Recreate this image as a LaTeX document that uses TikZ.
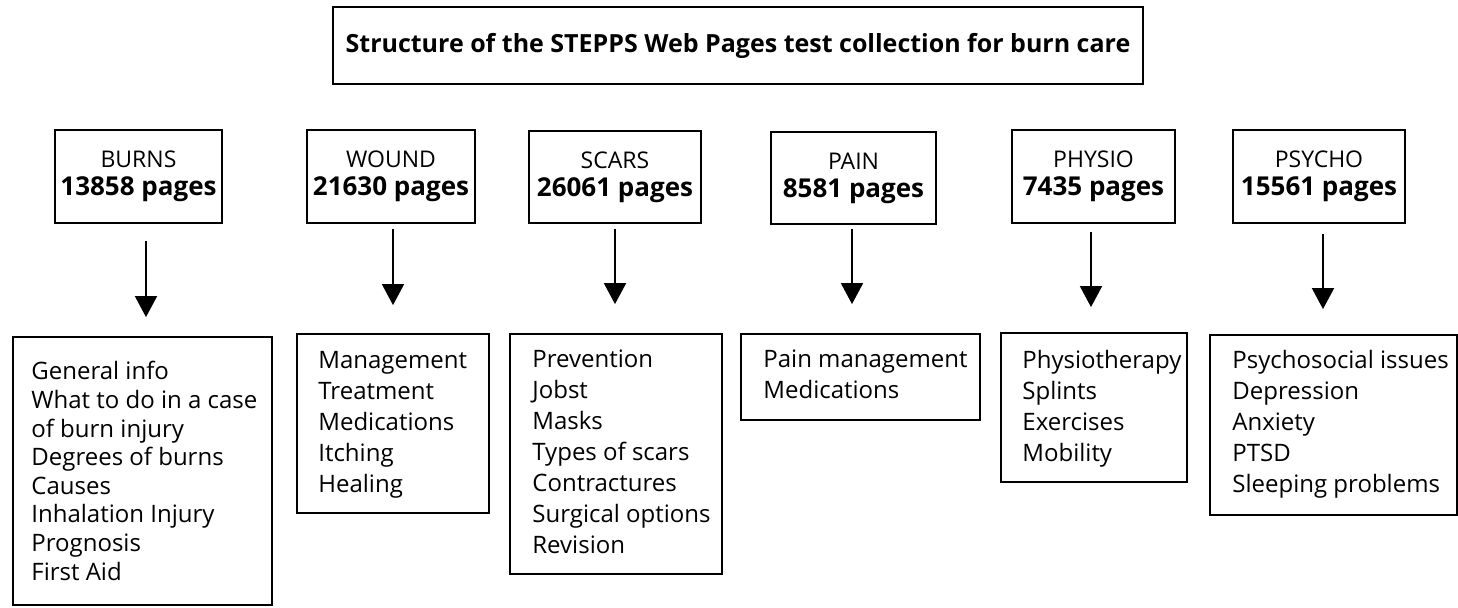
\documentclass[tikz,border=0pt]{standalone}
\usepackage{fontspec}
\setmainfont{Open Sans}
\usetikzlibrary{arrows.meta}
\newcommand\cntfont{\bfseries\fontsize{13}{14}\selectfont}
\begin{document}
\begin{tikzpicture}[x=0.5pt,y=-0.5pt,
  box/.style={draw, line width=0.9pt, inner sep=0pt},
  head/.style={box, align=center, font=\fontsize{11.5}{14}\selectfont},
  lst/.style={anchor=base west, inner sep=0pt, font=\fontsize{12}{15.5}\selectfont},
  arr/.style={line width=0.9pt, -{Triangle[width=11pt,length=10.5pt]}},
]
\useasboundingbox (0,0) rectangle (1458,608);
% title
\node[box, minimum width=405pt, minimum height=38.5pt, font=\bfseries\fontsize{12.5}{14}\selectfont] (title) at (738,45.5) {Structure of the STEPPS Web Pages test collection for burn care};
% top boxes
\node[head, minimum width=83.5pt, minimum height=46.5pt] (burns) at (138.5,176.5) {BURNS\\{\cntfont 13858 pages}};
\node[head, minimum width=84pt, minimum height=46.5pt] (wound) at (391,176.5) {WOUND\\{\cntfont 21630 pages}};
\node[head, minimum width=86pt, minimum height=46pt] (scars) at (615,177) {SCARS\\{\cntfont 26061 pages}};
\node[head, minimum width=82.5pt, minimum height=46pt] (pain) at (853.5,178) {PAIN\\{\cntfont 8581 pages}};
\node[head, minimum width=81.5pt, minimum height=46.5pt] (physio) at (1093.5,176.5) {PHYSIO\\{\cntfont 7435 pages}};
\node[head, minimum width=86pt, minimum height=46.5pt] (psycho) at (1319,176.5) {PSYCHO\\{\cntfont 15561 pages}};
% list boxes
\node[box, minimum width=129.5pt, minimum height=134pt] (burnsl) at (142.5,471) {};
\node[box, minimum width=96pt, minimum height=89.5pt] (woundl) at (393,423.5) {};
\node[box, minimum width=106pt, minimum height=120pt] (scarsl) at (616,454) {};
\node[box, minimum width=119.5pt, minimum height=43pt] (painl) at (860.5,377) {};
\node[box, minimum width=93pt, minimum height=74.5pt] (physiol) at (1094,407.5) {};
\node[box, minimum width=123.5pt, minimum height=90pt] (psychol) at (1333.5,425) {};
% list texts
\node[lst, font=\fontsize{12}{14.3}\selectfont] (burnst) at (31,380) {\begin{tabular}[t]{@{}l@{}}General info\\What to do in a case\\of burn injury\\Degrees of burns\\Causes\\Inhalation Injury\\Prognosis\\First Aid\end{tabular}};
\node[lst] (woundt) at (318,369) {\begin{tabular}[t]{@{}l@{}}Management\\Treatment\\Medications\\Itching\\Healing\end{tabular}};
\node[lst] (scarst) at (532,368) {\begin{tabular}[t]{@{}l@{}}Prevention\\Jobst\\Masks\\Types of scars\\Contractures\\Surgical options\\Revision\end{tabular}};
\node[lst] (paint) at (763,368) {\begin{tabular}[t]{@{}l@{}}Pain management\\Medications\end{tabular}};
\node[lst] (physiot) at (1022,369) {\begin{tabular}[t]{@{}l@{}}Physiotherapy\\Splints\\Exercises\\Mobility\end{tabular}};
\node[lst] (psychot) at (1232,369) {\begin{tabular}[t]{@{}l@{}}Psychosocial issues\\Depression\\Anxiety\\PTSD\\Sleeping problems\end{tabular}};
% arrows
\draw[arr, shorten <=8.5pt, shorten >=9.5pt] ([xshift=3.75pt]burns.south) -- ([xshift=3.75pt]burns.south |- burnsl.north);
\draw[arr, shorten <=2.5pt, shorten >=14pt] ([xshift=1pt]wound.south) -- ([xshift=1pt]wound.south |- woundl.north);
\draw[arr, shorten <=2.5pt, shorten >=14.5pt] (scars.south) -- (scars.south |- scarsl.north);
\draw[arr, shorten <=2pt, shorten >=14.5pt] ([xshift=-0.75pt]pain.south) -- ([xshift=-0.75pt]pain.south |- painl.north);
\draw[arr, shorten <=4pt, shorten >=12.5pt] ([xshift=-1.25pt]physio.south) -- ([xshift=-1.25pt]physio.south |- physiol.north);
\draw[arr, shorten <=5pt, shorten >=12.5pt] ([xshift=2pt]psycho.south) -- ([xshift=2pt]psycho.south |- psychol.north);
\end{tikzpicture}
\end{document}
